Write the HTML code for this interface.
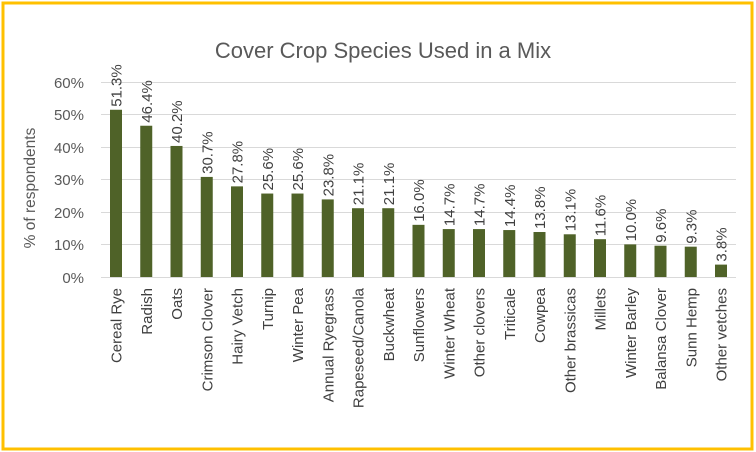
<!DOCTYPE html>
<html><head><style>
html,body{margin:0;padding:0;background:#fff;}
svg{display:block;font-family:"Liberation Sans",sans-serif;}
</style></head><body>
<svg width="756" height="452" viewBox="0 0 756 452" xmlns="http://www.w3.org/2000/svg">
<rect x="0" y="0" width="756" height="452" fill="#fff"/>
<rect x="3" y="3" width="749" height="446" fill="none" stroke="#ffc000" stroke-width="3"/>
<text x="383" y="58" text-anchor="middle" font-size="22" fill="#595959">Cover Crop Species Used in a Mix</text>
<g stroke="#d9d9d9" stroke-width="1">
<line x1="101" y1="82.5" x2="736" y2="82.5"/>
<line x1="101" y1="114.5" x2="736" y2="114.5"/>
<line x1="101" y1="147.5" x2="736" y2="147.5"/>
<line x1="101" y1="179.5" x2="736" y2="179.5"/>
<line x1="101" y1="212.5" x2="736" y2="212.5"/>
<line x1="101" y1="244.5" x2="736" y2="244.5"/>
<line x1="101" y1="277.5" x2="736" y2="277.5"/>
</g>
<g font-size="15" fill="#595959" text-anchor="end">
<text x="84" y="88">60%</text>
<text x="84" y="120">50%</text>
<text x="84" y="153">40%</text>
<text x="84" y="185">30%</text>
<text x="84" y="218">20%</text>
<text x="84" y="250">10%</text>
<text x="84" y="283">0%</text>
</g>
<text transform="translate(35,188) rotate(-90)" text-anchor="middle" font-size="15.5" fill="#595959">% of respondents</text>
<g fill="#4f6228">
<rect x="110" y="109.76" width="12" height="167.24"/>
<rect x="140.25" y="125.74" width="12" height="151.26"/>
<rect x="170.5" y="145.95" width="12" height="131.05"/>
<rect x="200.75" y="176.92" width="12" height="100.08"/>
<rect x="231" y="186.37" width="12" height="90.63"/>
<rect x="261.25" y="193.54" width="12" height="83.46"/>
<rect x="291.5" y="193.54" width="12" height="83.46"/>
<rect x="321.75" y="199.41" width="12" height="77.59"/>
<rect x="352" y="208.21" width="12" height="68.79"/>
<rect x="382.25" y="208.21" width="12" height="68.79"/>
<rect x="412.5" y="224.84" width="12" height="52.16"/>
<rect x="442.75" y="229.08" width="12" height="47.92"/>
<rect x="473" y="229.08" width="12" height="47.92"/>
<rect x="503.25" y="230.06" width="12" height="46.94"/>
<rect x="533.5" y="232.01" width="12" height="44.99"/>
<rect x="563.75" y="234.29" width="12" height="42.71"/>
<rect x="594" y="239.18" width="12" height="37.82"/>
<rect x="624.25" y="244.4" width="12" height="32.6"/>
<rect x="654.5" y="245.7" width="12" height="31.3"/>
<rect x="684.75" y="246.68" width="12" height="30.32"/>
<rect x="715" y="264.61" width="12" height="12.39"/>
</g>
<g font-size="15" fill="#404040">
<text transform="translate(121.5,106.8) rotate(-90)">51.3%</text>
<text transform="translate(151.75,122.7) rotate(-90)">46.4%</text>
<text transform="translate(182,143) rotate(-90)">40.2%</text>
<text transform="translate(212.25,173.9) rotate(-90)">30.7%</text>
<text transform="translate(242.5,183.4) rotate(-90)">27.8%</text>
<text transform="translate(272.75,190.5) rotate(-90)">25.6%</text>
<text transform="translate(303,190.5) rotate(-90)">25.6%</text>
<text transform="translate(333.25,196.4) rotate(-90)">23.8%</text>
<text transform="translate(363.5,205.2) rotate(-90)">21.1%</text>
<text transform="translate(393.75,205.2) rotate(-90)">21.1%</text>
<text transform="translate(424,221.8) rotate(-90)">16.0%</text>
<text transform="translate(454.25,226.1) rotate(-90)">14.7%</text>
<text transform="translate(484.5,226.1) rotate(-90)">14.7%</text>
<text transform="translate(514.75,227.1) rotate(-90)">14.4%</text>
<text transform="translate(545,229) rotate(-90)">13.8%</text>
<text transform="translate(575.25,231.3) rotate(-90)">13.1%</text>
<text transform="translate(605.5,236.2) rotate(-90)">11.6%</text>
<text transform="translate(635.75,241.4) rotate(-90)">10.0%</text>
<text transform="translate(666,242.7) rotate(-90)">9.6%</text>
<text transform="translate(696.25,243.7) rotate(-90)">9.3%</text>
<text transform="translate(726.5,261.6) rotate(-90)">3.8%</text>
</g>
<g font-size="15" fill="#404040" text-anchor="end">
<text transform="translate(121.5,288) rotate(-90)">Cereal Rye</text>
<text transform="translate(151.75,288) rotate(-90)">Radish</text>
<text transform="translate(182,288) rotate(-90)">Oats</text>
<text transform="translate(212.25,288) rotate(-90)">Crimson Clover</text>
<text transform="translate(242.5,288) rotate(-90)">Hairy Vetch</text>
<text transform="translate(272.75,288) rotate(-90)">Turnip</text>
<text transform="translate(303,288) rotate(-90)">Winter Pea</text>
<text transform="translate(333.25,288) rotate(-90)">Annual Ryegrass</text>
<text transform="translate(363.5,288) rotate(-90)">Rapeseed/Canola</text>
<text transform="translate(393.75,288) rotate(-90)">Buckwheat</text>
<text transform="translate(424,288) rotate(-90)">Sunflowers</text>
<text transform="translate(454.25,288) rotate(-90)">Winter Wheat</text>
<text transform="translate(484.5,288) rotate(-90)">Other clovers</text>
<text transform="translate(514.75,288) rotate(-90)">Triticale</text>
<text transform="translate(545,288) rotate(-90)">Cowpea</text>
<text transform="translate(575.25,288) rotate(-90)">Other brassicas</text>
<text transform="translate(605.5,288) rotate(-90)">Millets</text>
<text transform="translate(635.75,288) rotate(-90)">Winter Barley</text>
<text transform="translate(666,288) rotate(-90)">Balansa Clover</text>
<text transform="translate(696.25,288) rotate(-90)">Sunn Hemp</text>
<text transform="translate(726.5,288) rotate(-90)">Other vetches</text>
</g>
</svg>
</body></html>
